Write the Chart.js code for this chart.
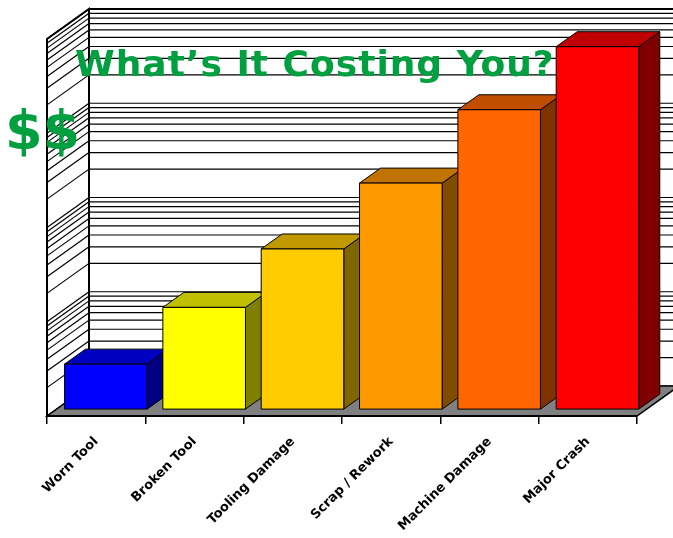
<!DOCTYPE html>
<html>
<head>
<meta charset="utf-8">
<script src="https://cdn.jsdelivr.net/npm/chart.js@4/dist/chart.umd.min.js"></script>
<style>
  html, body { margin: 0; padding: 0; background: #fff; }
  #wrap { position: relative; width: 673px; height: 538px; }
</style>
</head>
<body>
<div id="wrap"><canvas id="c" width="673" height="538"></canvas></div>
<script>
// ---- data ----
const categories = ['Worn Tool', 'Broken Tool', 'Tooling Damage', 'Scrap / Rework', 'Machine Damage', 'Major Crash'];
const costs = [3, 12, 50, 250, 1500, 7000];
const frontColors = ['#0000FF', '#FFFF00', '#FFCC00', '#FF9900', '#FF6600', '#FF0000'];
const topColors   = ['#0000C0', '#C0C000', '#C09900', '#C07300', '#C04D00', '#C00000'];
const sideColors  = ['#000080', '#808000', '#806600', '#804D00', '#803300', '#800000'];
const gridDecades = [1, 10, 100, 1000];
const gridMultipliers = [1, 2, 3, 4, 5, 6, 7, 8, 9];
const axisMin = 1, axisMax = 10000;
const titleText = 'What\u2019s It Costing You?';
const sideText = '$$';

// ---- 3D look ----
const DX = 42, DY = -30;      // full depth offset
const BAR_FRONT = 0.23;       // bar front face depth fraction
const BAR_DEPTH = 0.5;        // bar depth fraction

const gridValues = [];
gridDecades.forEach(d => gridMultipliers.forEach(m => gridValues.push(m * d)));
gridValues.push(axisMax);

const box3d = {
  id: 'box3d',
  beforeDatasetsDraw(chart) {
    const { ctx, chartArea: { left, right, top, bottom }, scales: { y } } = chart;
    const W = chart.width;
    ctx.save();
    ctx.strokeStyle = '#000';
    ctx.lineWidth = 1.2;
    gridValues.forEach(v => {
      const fy = y.getPixelForValue(v);
      ctx.beginPath();
      ctx.moveTo(left + DX, fy + DY);
      ctx.lineTo(W, fy + DY);
      ctx.stroke();
      ctx.beginPath();
      ctx.moveTo(left, fy);
      ctx.lineTo(left + DX, fy + DY);
      ctx.stroke();
    });
    ctx.lineWidth = 2;
    ctx.beginPath();
    ctx.moveTo(left, bottom); ctx.lineTo(left, top); ctx.lineTo(left + DX, top + DY);
    ctx.lineTo(left + DX, bottom + DY);
    ctx.stroke();
    ctx.beginPath();
    ctx.moveTo(left + DX, top + DY); ctx.lineTo(W, top + DY);
    ctx.stroke();
    // floor
    ctx.beginPath();
    ctx.moveTo(left, bottom);
    ctx.lineTo(right, bottom);
    ctx.lineTo(right + DX, bottom + DY);
    ctx.lineTo(left + DX, bottom + DY);
    ctx.closePath();
    ctx.fillStyle = '#808080';
    ctx.fill();
    ctx.lineWidth = 1.5;
    ctx.stroke();
    ctx.lineWidth = 2;
    ctx.beginPath();
    ctx.moveTo(left, bottom); ctx.lineTo(right, bottom);
    ctx.stroke();
    ctx.restore();
  },
  afterDatasetsDraw(chart) {
    const { ctx } = chart;
    const meta = chart.getDatasetMeta(0);
    const fdx = BAR_FRONT * DX, fdy = BAR_FRONT * DY;
    const bdx = BAR_DEPTH * DX, bdy = BAR_DEPTH * DY;
    ctx.save();
    ctx.strokeStyle = '#000';
    ctx.lineWidth = 1;
    ctx.lineJoin = 'round';
    meta.data.forEach((el, i) => {
      const p = el.getProps(['x', 'y', 'base', 'width'], true);
      const l = p.x - p.width / 2 + fdx;
      const r = p.x + p.width / 2 + fdx;
      const t = p.y + fdy;
      const b = p.base + fdy;
      ctx.beginPath();
      ctx.moveTo(r, t); ctx.lineTo(r + bdx, t + bdy); ctx.lineTo(r + bdx, b + bdy); ctx.lineTo(r, b);
      ctx.closePath();
      ctx.fillStyle = sideColors[i]; ctx.fill(); ctx.stroke();
      ctx.beginPath();
      ctx.moveTo(l, t); ctx.lineTo(l + bdx, t + bdy); ctx.lineTo(r + bdx, t + bdy); ctx.lineTo(r, t);
      ctx.closePath();
      ctx.fillStyle = topColors[i]; ctx.fill(); ctx.stroke();
      ctx.beginPath();
      ctx.rect(l, t, r - l, b - t);
      ctx.fillStyle = frontColors[i]; ctx.fill(); ctx.stroke();
    });
    ctx.restore();
  },
  afterDraw(chart) {
    const { ctx } = chart;
    ctx.save();
    ctx.fillStyle = '#00A040';
    ctx.textBaseline = 'alphabetic';
    ctx.textAlign = 'left';
    ctx.font = 'bold 36px "DejaVu Sans"';
    ctx.letterSpacing = '1px';
    ctx.fillText(titleText, 75, 76);
    ctx.letterSpacing = '0px';
    ctx.font = 'bold 54px "DejaVu Sans"';
    ctx.fillText(sideText, 5, 149);
    ctx.restore();
  }
};

new Chart(document.getElementById('c'), {
  type: 'bar',
  data: {
    labels: categories,
    datasets: [{
      data: costs,
      backgroundColor: 'rgba(0,0,0,0)',
      borderWidth: 0,
      categoryPercentage: 1,
      barPercentage: 0.84
    }]
  },
  options: {
    responsive: false,
    animation: false,
    events: [],
    layout: { padding: { left: 47, right: 36, top: 39, bottom: 0 } },
    plugins: { legend: { display: false }, tooltip: { enabled: false }, title: { display: false } },
    scales: {
      x: {
        grid: { display: true, drawOnChartArea: false, drawTicks: true, tickLength: 8, color: '#000', lineWidth: 1.5, offset: true },
        border: { display: false },
        ticks: {
          autoSkip: false, minRotation: 45, maxRotation: 45, padding: 10,
          color: '#000', font: { family: '"DejaVu Sans"', size: 13, weight: 'bold' }
        },
        afterFit(s) { s.height = 122; }
      },
      y: {
        type: 'logarithmic',
        min: axisMin, max: axisMax,
        display: false
      }
    }
  },
  plugins: [box3d]
});
</script>
</body>
</html>
